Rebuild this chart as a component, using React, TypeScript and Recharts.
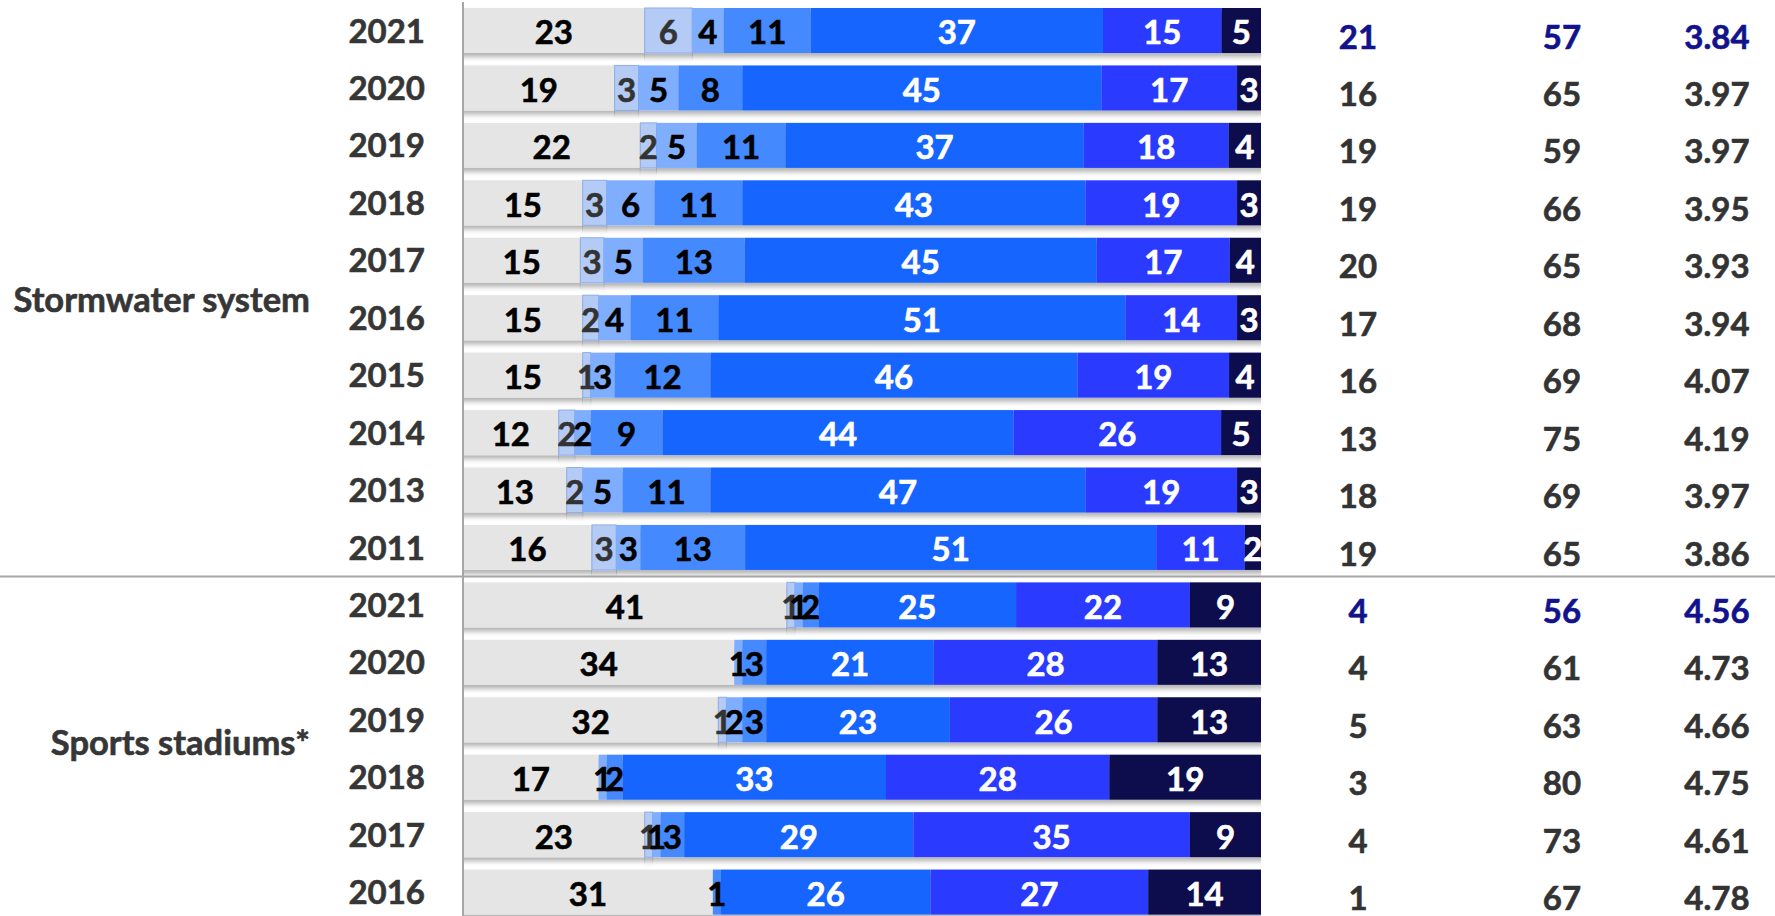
import React from 'react';
import { BarChart, Bar, XAxis, YAxis, LabelList } from 'recharts';

// Stormwater system, one value per year (rows top to bottom)
const stormwaterYears = ['2021', '2020', '2019', '2018', '2017', '2016', '2015', '2014', '2013', '2011'];
const stormwaterDontKnow = [23, 19, 22, 15, 15, 15, 15, 12, 13, 16];
const stormwaterV1 = [6, 3, 2, 3, 3, 2, 1, 2, 2, 3];
const stormwaterV2 = [4, 5, 5, 6, 5, 4, 3, 2, 5, 3];
const stormwaterV3 = [11, 8, 11, 11, 13, 11, 12, 9, 11, 13];
const stormwaterV4 = [37, 45, 37, 43, 45, 51, 46, 44, 47, 51];
const stormwaterV5 = [15, 17, 18, 19, 17, 14, 19, 26, 19, 11];
const stormwaterV6 = [5, 3, 4, 3, 4, 3, 4, 5, 3, 2];
const stormwaterDissatisfied = [21, 16, 19, 19, 20, 17, 16, 13, 18, 19];
const stormwaterSatisfied = [57, 65, 59, 66, 65, 68, 69, 75, 69, 65];
const stormwaterMean = ['3.84', '3.97', '3.97', '3.95', '3.93', '3.94', '4.07', '4.19', '3.97', '3.86'];

// Sports stadiums
const stadiumYears = ['2021', '2020', '2019', '2018', '2017', '2016'];
const stadiumDontKnow = [41, 34, 32, 17, 23, 31];
const stadiumV1 = [1, 0, 1, 0, 1, 0];
const stadiumV2 = [1, 1, 2, 1, 1, 0];
const stadiumV3 = [2, 3, 3, 2, 3, 1];
const stadiumV4 = [25, 21, 23, 33, 29, 26];
const stadiumV5 = [22, 28, 26, 28, 35, 27];
const stadiumV6 = [9, 13, 13, 19, 9, 14];
const stadiumDissatisfied = [4, 4, 5, 3, 4, 1];
const stadiumSatisfied = [56, 61, 63, 80, 73, 67];
const stadiumMean = ['4.56', '4.73', '4.66', '4.75', '4.61', '4.78'];

const groups = [
  {
    code: 'sw', label: 'Stormwater system', labelAt: 4.72, years: stormwaterYears,
    series: [stormwaterDontKnow, stormwaterV1, stormwaterV2, stormwaterV3, stormwaterV4, stormwaterV5, stormwaterV6],
    dissatisfied: stormwaterDissatisfied, satisfied: stormwaterSatisfied, mean: stormwaterMean,
  },
  {
    code: 'ss', label: 'Sports stadiums*', labelAt: 2.43, years: stadiumYears,
    series: [stadiumDontKnow, stadiumV1, stadiumV2, stadiumV3, stadiumV4, stadiumV5, stadiumV6],
    dissatisfied: stadiumDissatisfied, satisfied: stadiumSatisfied, mean: stadiumMean,
  },
];

const SEGMENTS = [
  { key: 'dk', fill: '#E5E5E5', stroke: 'none', text: '#000000' },
  { key: 'v1', fill: '#B3CBF5', stroke: '#8FAEE8', text: '#333333' },
  { key: 'v2', fill: '#7FAEFF', stroke: 'none', text: '#000000' },
  { key: 'v3', fill: '#4589FF', stroke: 'none', text: '#000000' },
  { key: 'v4', fill: '#1565FF', stroke: 'none', text: '#FFFFFF' },
  { key: 'v5', fill: '#2B3BFF', stroke: 'none', text: '#FFFFFF' },
  { key: 'v6', fill: '#0B0B4D', stroke: 'none', text: '#FFFFFF' },
];

const rows: any[] = [];
groups.forEach((g, gi) => {
  const labelRow = Math.floor(g.labelAt);
  g.years.forEach((year, i) => {
    const row: any = {
      id: `${g.code}-${year}`,
      year,
      first: i === 0,
      separator: i === 0 && gi > 0,
      groupLabel: i === labelRow ? g.label : null,
      labelShift: g.labelAt - labelRow,
      dissatisfied: g.dissatisfied[i],
      satisfied: g.satisfied[i],
      mean: g.mean[i],
    };
    SEGMENTS.forEach((s, si) => {
      row[s.key] = g.series[si][i];
    });
    rows.push(row);
  });
});
const rowById: Record<string, any> = {};
rows.forEach((r) => (rowById[r.id] = r));

const WIDTH = 1775;
const HEIGHT = 921;
const MARGIN_TOP = 2;
const LEFT_AXIS_W = 463;
const RIGHT_AXIS_W = 514;
const BAND = (HEIGHT - MARGIN_TOP) / rows.length;
const FONT = 'Lato, "Open Sans", sans-serif';
const HIGHLIGHT = '#12128C';
const FS = 33;

const boldText = (color: string) => ({
  fontFamily: FONT,
  fontWeight: 700,
  fill: color,
  stroke: color,
  strokeWidth: 0.6,
  paintOrder: 'stroke' as const,
});

const LeftTick = (props: any) => {
  const { x, y, payload } = props;
  const row = rowById[payload.value];
  if (!row) return null;
  return (
    <g>
      {row.separator && (
        <line x1={0} x2={WIDTH} y1={y - BAND / 2} y2={y - BAND / 2} stroke="#A6A6A6" strokeWidth={2} />
      )}
      <text x={x} y={y} dy="0.36em" textAnchor="end" fontSize={FS} {...boldText('#363636')}>
        {row.year}
      </text>
      {row.groupLabel && (
        <text
          x={310}
          y={y + row.labelShift * BAND}
          dy="0.3em"
          textAnchor="end"
          fontSize={34.5}
          {...boldText('#363636')}
        >
          {row.groupLabel}
        </text>
      )}
    </g>
  );
};

const RightTick = (props: any) => {
  const { x, y, payload } = props;
  const row = rowById[payload.value];
  if (!row) return null;
  const color = row.first ? HIGHLIGHT : '#333333';
  const common = {
    y: y + 6,
    dy: '0.36em',
    textAnchor: 'middle' as const,
    fontSize: FS,
    ...boldText(color),
  };
  return (
    <g>
      <text x={x + 97} {...common}>{row.dissatisfied}</text>
      <text x={x + 301} {...common}>{row.satisfied}</text>
      <text x={x + 456} {...common}>{row.mean}</text>
    </g>
  );
};

const SegmentShape = (props: any) => {
  const { x, y, width, height, fill, stroke } = props;
  if (!width || width <= 0) return null;
  return (
    <rect
      x={x}
      y={y}
      width={width}
      height={height}
      fill={fill}
      stroke={stroke}
      strokeWidth={stroke === 'none' ? 0 : 1}
      filter="url(#barShadow)"
    />
  );
};

const makeLabel = (color: string) => (props: any) => {
  const { x, y, width, height, value } = props;
  if (!value) return null;
  return (
    <text
      x={x + width / 2}
      y={y + height / 2 + 2}
      dy="0.36em"
      textAnchor="middle"
      fontSize={FS}
      {...boldText(color)}
    >
      {value}
    </text>
  );
};

export default function App() {
  return (
    <div style={{ position: 'absolute', left: 0, top: 0, width: WIDTH, height: 916, overflow: 'hidden', background: '#fff' }}>
      <BarChart
        width={WIDTH}
        height={HEIGHT}
        data={rows}
        layout="vertical"
        stackOffset="expand"
        barSize={45}
        margin={{ top: MARGIN_TOP, right: 0, bottom: 0, left: 0 }}
      >
        <defs>
          <filter id="barShadow" x="-5%" y="-20%" width="110%" height="160%">
            <feDropShadow dx="0" dy="4" stdDeviation="0 2.5" floodColor="#000" floodOpacity="0.3" />
          </filter>
        </defs>
        <XAxis type="number" hide domain={[0, 1]} />
        <YAxis
          type="category"
          dataKey="id"
          width={LEFT_AXIS_W}
          interval={0}
          tickLine={false}
          tickSize={0}
          tickMargin={38}
          axisLine={{ stroke: '#A6A6A6', strokeWidth: 2 }}
          tick={LeftTick}
        />
        <YAxis
          yAxisId="table"
          orientation="right"
          type="category"
          dataKey="id"
          width={RIGHT_AXIS_W}
          interval={0}
          tickLine={false}
          tickSize={0}
          tickMargin={0}
          axisLine={false}
          tick={RightTick}
        />
        {SEGMENTS.map((s) => (
          <Bar
            key={s.key}
            dataKey={s.key}
            stackId="a"
            fill={s.fill}
            stroke={s.stroke}
            shape={SegmentShape}
            isAnimationActive={false}
          >
            <LabelList dataKey={s.key} content={makeLabel(s.text)} />
          </Bar>
        ))}
      </BarChart>
    </div>
  );
}
